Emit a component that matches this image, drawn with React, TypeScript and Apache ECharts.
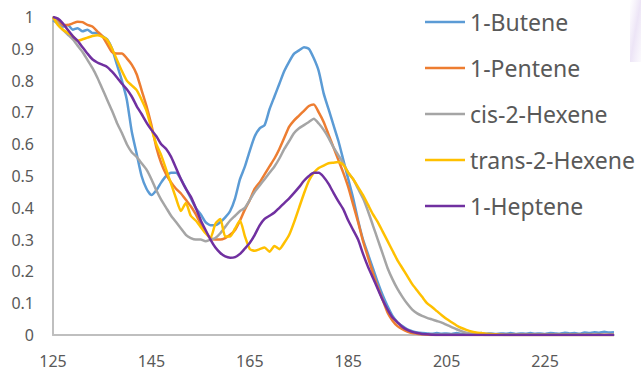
import React, { useEffect, useRef } from "react";
import * as echarts from "echarts";

const xValues = [
  125, 126, 127, 128, 129, 130, 131, 132, 133, 134,
  135, 136, 137, 138, 139, 140, 141, 142, 143, 144,
  145, 146, 147, 148, 149, 150, 151, 152, 153, 154,
  155, 156, 157, 158, 159, 160, 161, 162, 163, 164,
  165, 166, 167, 168, 169, 170, 171, 172, 173, 174,
  175, 176, 177, 178, 179, 180, 181, 182, 183, 184,
  185, 186, 187, 188, 189, 190, 191, 192, 193, 194,
  195, 196, 197, 198, 199, 200, 201, 202, 203, 204,
  205, 206, 207, 208, 209, 210, 211, 212, 213, 214,
  215, 216, 217, 218, 219, 220, 221, 222, 223, 224,
  225, 226, 227, 228, 229, 230, 231, 232, 233, 234,
  235, 236, 237, 238, 239,
];

const butene = [
  0.99, 0.98, 0.97, 0.975, 0.96, 0.965, 0.955, 0.96, 0.95, 0.95,
  0.94, 0.93, 0.9, 0.85, 0.8, 0.74, 0.64, 0.57, 0.5, 0.46,
  0.44, 0.455, 0.48, 0.5, 0.51, 0.51, 0.49, 0.46, 0.43, 0.4,
  0.38, 0.355, 0.345, 0.345, 0.355, 0.37, 0.39, 0.43, 0.49, 0.53,
  0.58, 0.625, 0.65, 0.66, 0.71, 0.75, 0.79, 0.83, 0.86, 0.885,
  0.895, 0.905, 0.9, 0.87, 0.83, 0.76, 0.71, 0.66, 0.61, 0.55,
  0.49, 0.43, 0.36, 0.3, 0.255, 0.21, 0.165, 0.125, 0.09, 0.06,
  0.04, 0.028, 0.018, 0.012, 0.008, 0.006, 0.005, 0.004, 0.006, 0.004,
  0.005, 0.003, 0.006, 0.004, 0.005, 0.004, 0.003, 0.006, 0.004, 0.005,
  0.003, 0.005, 0.004, 0.006, 0.003, 0.005, 0.004, 0.006, 0.004, 0.005,
  0.003, 0.006, 0.005, 0.004, 0.007, 0.005, 0.006, 0.004, 0.008, 0.006,
  0.009, 0.007, 0.01, 0.008, 0.009,
];

const pentene = [
  1.0, 0.99, 0.975, 0.975, 0.98, 0.985, 0.984, 0.975, 0.97, 0.955,
  0.94, 0.915, 0.89, 0.885, 0.885, 0.87, 0.85, 0.82, 0.77, 0.72,
  0.66, 0.59, 0.54, 0.505, 0.48, 0.46, 0.445, 0.425, 0.405, 0.38,
  0.35, 0.325, 0.305, 0.3, 0.3, 0.305, 0.315, 0.33, 0.36, 0.395,
  0.425, 0.46, 0.48, 0.505, 0.53, 0.555, 0.585, 0.62, 0.655, 0.675,
  0.69, 0.705, 0.72, 0.725, 0.7, 0.67, 0.63, 0.59, 0.55, 0.51,
  0.465, 0.41, 0.355, 0.295, 0.245, 0.195, 0.15, 0.11, 0.07, 0.045,
  0.028, 0.018, 0.011, 0.006, 0.004, 0.002, 0.001, 0, 0, 0,
  0, 0, 0, 0, 0, 0, 0, 0, 0, 0,
  0, 0, 0, 0, 0, 0, 0, 0, 0, 0,
  0, 0, 0, 0, 0, 0, 0, 0, 0, 0,
  0, 0, 0, 0, 0,
];

const cisHexene = [
  1.0, 0.98, 0.96, 0.945, 0.93, 0.91, 0.89, 0.865, 0.84, 0.81,
  0.775, 0.74, 0.705, 0.667, 0.635, 0.6, 0.575, 0.56, 0.54, 0.52,
  0.49, 0.455, 0.425, 0.4, 0.375, 0.355, 0.335, 0.315, 0.305, 0.3,
  0.3, 0.295, 0.3, 0.305, 0.32, 0.34, 0.36, 0.375, 0.39, 0.4,
  0.425, 0.45, 0.47, 0.49, 0.51, 0.53, 0.555, 0.585, 0.61, 0.635,
  0.65, 0.66, 0.67, 0.68, 0.665, 0.645, 0.62, 0.59, 0.565, 0.54,
  0.51, 0.49, 0.46, 0.43, 0.39, 0.345, 0.3, 0.255, 0.21, 0.175,
  0.145, 0.12, 0.098, 0.08, 0.068, 0.06, 0.054, 0.049, 0.044, 0.039,
  0.032, 0.025, 0.018, 0.012, 0.007, 0.004, 0.002, 0.001, 0, 0,
  0, 0, 0, 0, 0, 0, 0, 0, 0, 0,
  0, 0, 0, 0, 0, 0, 0, 0, 0, 0,
  0, 0, 0, 0, 0,
];

const transHexene = [
  1.0, 0.975, 0.96, 0.95, 0.94, 0.925, 0.93, 0.935, 0.94, 0.943,
  0.938, 0.928, 0.9, 0.865, 0.83, 0.8, 0.785, 0.77, 0.74, 0.705,
  0.65, 0.6, 0.565, 0.52, 0.475, 0.43, 0.39, 0.415, 0.375, 0.36,
  0.34, 0.32, 0.305, 0.35, 0.365, 0.31, 0.31, 0.335, 0.36, 0.31,
  0.27, 0.265, 0.27, 0.275, 0.262, 0.28, 0.27, 0.29, 0.315, 0.355,
  0.4, 0.445, 0.485, 0.51, 0.525, 0.533, 0.54, 0.542, 0.544, 0.535,
  0.51, 0.49, 0.465, 0.44, 0.41, 0.38, 0.355, 0.325, 0.295, 0.265,
  0.235, 0.21, 0.185, 0.16, 0.14, 0.12, 0.1, 0.088, 0.075, 0.062,
  0.05, 0.04, 0.03, 0.022, 0.016, 0.011, 0.008, 0.006, 0.004, 0.003,
  0.002, 0.001, 0, 0, 0, 0, 0, 0, 0, 0,
  0, 0, 0, 0, 0, 0, 0, 0, 0, 0,
  0, 0, 0, 0, 0,
];

const heptene = [
  1.0, 0.995, 0.98, 0.96, 0.94, 0.925, 0.905, 0.885, 0.867, 0.857,
  0.85, 0.843, 0.828, 0.81, 0.79, 0.773, 0.75, 0.72, 0.695, 0.668,
  0.645, 0.625, 0.6, 0.585, 0.56, 0.525, 0.49, 0.46, 0.435, 0.4,
  0.362, 0.33, 0.3, 0.275, 0.258, 0.247, 0.243, 0.245, 0.255, 0.272,
  0.29, 0.315, 0.345, 0.365, 0.375, 0.385, 0.4, 0.415, 0.43, 0.447,
  0.465, 0.485, 0.5, 0.51, 0.51, 0.497, 0.475, 0.447, 0.42, 0.395,
  0.36, 0.33, 0.3, 0.255, 0.215, 0.18, 0.145, 0.11, 0.08, 0.055,
  0.04, 0.025, 0.016, 0.01, 0.006, 0.003, 0.002, 0.001, 0, 0,
  0, 0, 0, 0, 0, 0, 0, 0, 0, 0,
  0, 0, 0, 0, 0, 0, 0, 0, 0, 0,
  0, 0, 0, 0, 0, 0, 0, 0, 0, 0,
  0, 0, 0, 0, 0,
];

const seriesNames = ["1-Butene", "1-Pentene", "cis-2-Hexene", "trans-2-Hexene", "1-Heptene"];
const seriesColors = ["#5B9BD5", "#ED7D31", "#A5A5A5", "#FFC000", "#7030A0"];
const seriesData = [butene, pentene, cisHexene, transHexene, heptene];

const FONT = "'Noto Sans', 'Open Sans', sans-serif";
const TEXT_COLOR = "#595959";
const AXIS_COLOR = "#BFBFBF";

export default function App() {
  const ref = useRef<HTMLDivElement>(null);

  useEffect(() => {
    if (!ref.current) return;
    const chart = echarts.init(ref.current, null, { renderer: "svg" });
    chart.setOption({
      animation: false,
      backgroundColor: "#ffffff",
      textStyle: { fontFamily: FONT },
      grid: { left: 53, top: 17, right: 27, bottom: 36, containLabel: false },
      graphic: [
        {
          type: "rect",
          shape: { x: 630, y: 0, width: 11, height: 62 },
          style: {
            fill: new echarts.graphic.LinearGradient(0, 0, 1, 1, [
              { offset: 0, color: "rgba(236,228,246,0)" },
              { offset: 0.5, color: "rgba(232,222,244,0.8)" },
              { offset: 1, color: "rgba(236,228,246,0.2)" },
            ]),
          },
          silent: true,
          z: -1,
        },
      ],
      legend: {
        orient: "vertical",
        left: 425,
        top: 8,
        padding: 0,
        itemWidth: 40,
        itemHeight: 14,
        itemGap: 18,
        data: seriesNames.map((name, i) => ({
          name,
          icon: "path://M0,5.8 L40,5.8 L40,8.4 L0,8.4 Z",
          itemStyle: { color: seriesColors[i] },
        })),
        textStyle: {
          fontFamily: FONT,
          fontSize: 23,
          lineHeight: 28,
          color: TEXT_COLOR,
          padding: [0, 0, 0, 0],
        },
      },
      xAxis: {
        type: "value",
        min: 125,
        max: 239,
        interval: 20,
        axisLine: { show: true, lineStyle: { color: AXIS_COLOR, width: 2 } },
        axisTick: { show: false },
        splitLine: { show: false },
        axisLabel: {
          margin: 17,
          fontSize: 16,
          lineHeight: 17,
          color: TEXT_COLOR,
          fontFamily: FONT,
          showMaxLabel: false,
          formatter: (v: number) => ((v - 125) % 20 === 0 ? String(v) : ""),
        },
      },
      yAxis: {
        type: "value",
        min: 0,
        max: 1,
        interval: 0.1,
        axisLine: { show: true, lineStyle: { color: AXIS_COLOR, width: 2 } },
        axisTick: { show: false },
        splitLine: { show: false },
        axisLabel: {
          margin: 19,
          fontSize: 16,
          color: TEXT_COLOR,
          fontFamily: FONT,
          formatter: (v: number) => String(Math.round(v * 10) / 10),
        },
      },
      series: seriesData.map((d, i) => ({
        type: "line",
        name: seriesNames[i],
        data: xValues.map((x, j) => [x, d[j]]),
        showSymbol: false,
        symbol: "none",
        smooth: 0.2,
        lineStyle: { width: 2.5, color: seriesColors[i] },
        itemStyle: { color: seriesColors[i] },
      })),
    });
    return () => chart.dispose();
  }, []);

  return (
    <div
      ref={ref}
      style={{ position: "absolute", left: 0, top: 0, width: 641, height: 371 }}
    />
  );
}
